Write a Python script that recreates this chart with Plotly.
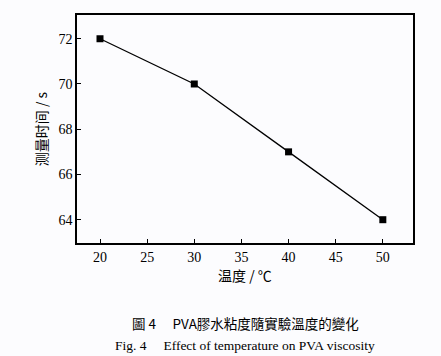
import plotly.graph_objects as go

temperature = [20, 30, 40, 50]
time_s = [72, 70, 67, 64]
x_ticks = [20, 25, 30, 35, 40, 45, 50]
y_ticks = [64, 66, 68, 70, 72]

serif = "Liberation Serif, DejaVu Serif, Noto Sans CJK SC, serif"
cjk = "Noto Sans CJK SC, Liberation Serif, serif"

fig = go.Figure()
fig.add_trace(go.Scatter(
    x=temperature, y=time_s, mode="lines+markers",
    line=dict(color="black", width=1.3),
    marker=dict(symbol="square", size=7, color="black"),
    showlegend=False,
))

fig.update_layout(
    template="none",
    width=441, height=356,
    margin=dict(l=77, r=28, t=15, b=113, autoexpand=False),
    paper_bgcolor="#fcfcfe", plot_bgcolor="#fcfcfe",
    font=dict(family=serif, color="black", size=13),
    xaxis=dict(
        automargin=False,
        range=[17.56, 53.2], tickvals=x_ticks, ticks="inside", ticklen=4,
        tickwidth=1.2, tickcolor="black", showgrid=False, zeroline=False,
        showline=True, linecolor="black", linewidth=1.5, mirror=True,
        tickfont=dict(family=serif, size=14, color="black"),
        title=dict(text="温度 / ℃", font=dict(family=cjk, size=14, color="black"), standoff=4),
    ),
    yaxis=dict(
        automargin=False,
        range=[62.97, 73.05], tickvals=y_ticks, ticks="inside", ticklen=4,
        tickwidth=1.2, tickcolor="black", showgrid=False, zeroline=False,
        showline=True, linecolor="black", linewidth=1.5, mirror=True,
        tickfont=dict(family=serif, size=14, color="black"),
        title=dict(text="测量时间 / s", font=dict(family=cjk, size=14, color="black"), standoff=8),
    ),
)

fig.add_annotation(text="圖 4　 PVA膠水粘度隨實驗溫度的變化", xref="paper", yref="paper",
                   x=0.5, y=0, xanchor="center", yanchor="middle",
                   yshift=-(323 - 243), showarrow=False,
                   font=dict(family=cjk, size=13.5, color="black"))
fig.add_annotation(text="Fig. 4　 Effect of temperature on PVA viscosity", xref="paper", yref="paper",
                   x=0.5, y=0, xanchor="center", yanchor="middle",
                   yshift=-(345 - 243), showarrow=False,
                   font=dict(family=serif, size=13.5, color="black"))

fig.write_html("out.html", config={"displayModeBar": False},
               post_script="document.body.style.margin='0px';document.body.style.overflow='hidden';")
